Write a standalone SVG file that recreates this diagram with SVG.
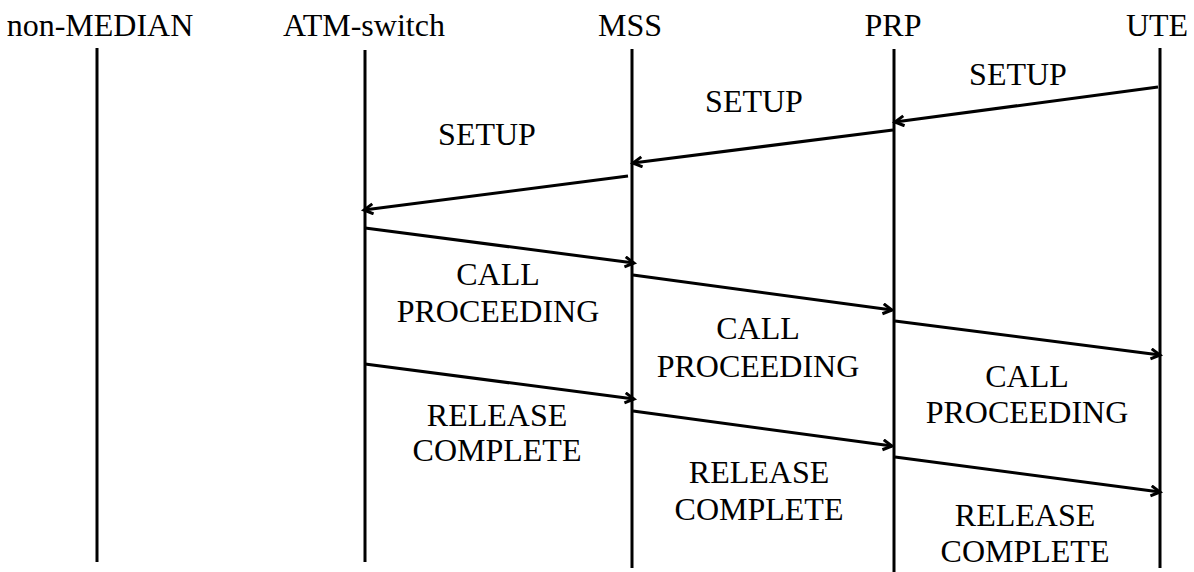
<svg xmlns="http://www.w3.org/2000/svg" width="1194" height="572" viewBox="0 0 1194 572">
<style>
text{font-family:"Liberation Serif","Times New Roman",serif;font-size:32px;fill:#000;text-anchor:middle}
.life{stroke:#000;stroke-width:3;fill:none}
.msg{stroke:#000;stroke-width:3;fill:none;marker-end:url(#ah)}
</style>
<defs>
<marker id="ah" markerUnits="userSpaceOnUse" markerWidth="14" markerHeight="14" refX="11" refY="6" orient="auto">
<path d="M2,1 L11,6 L2,11" fill="none" stroke="#000" stroke-width="3" stroke-linejoin="miter"/>
</marker>
</defs>
<rect width="1194" height="572" fill="#fff"/>
<g id="non-median">
<text x="100" y="36">non-MEDIAN</text>
<line class="life" x1="97" y1="48" x2="97" y2="562"/>
</g>
<g id="atm-switch">
<text x="364" y="36">ATM-switch</text>
<line class="life" x1="365" y1="50" x2="365" y2="562"/>
</g>
<g id="mss">
<text x="630" y="36">MSS</text>
<line class="life" x1="632" y1="49" x2="632" y2="568"/>
</g>
<g id="prp">
<text x="893" y="36">PRP</text>
<line class="life" x1="894" y1="49" x2="894" y2="572"/>
</g>
<g id="ute">
<text x="1157" y="36">UTE</text>
<line class="life" x1="1160" y1="48" x2="1160" y2="568"/>
</g>
<g id="connectors">
<line class="msg" x1="1158" y1="87" x2="895" y2="122"/>
<line class="msg" x1="893" y1="130" x2="633" y2="163"/>
<line class="msg" x1="628" y1="176" x2="364" y2="210"/>
<line class="msg" x1="365" y1="228" x2="634" y2="263"/>
<line class="msg" x1="633" y1="275" x2="892" y2="310"/>
<line class="msg" x1="895" y1="321" x2="1160" y2="355"/>
<line class="msg" x1="365" y1="364" x2="634" y2="399"/>
<line class="msg" x1="633" y1="411" x2="892" y2="446"/>
<line class="msg" x1="895" y1="457" x2="1160" y2="492"/>
</g>
<g id="labels">
<text x="1018" y="85">SETUP</text>
<text x="754" y="112">SETUP</text>
<text x="487" y="145">SETUP</text>
<text x="498" y="285">CALL</text>
<text x="498" y="322">PROCEEDING</text>
<text x="758" y="339">CALL</text>
<text x="758" y="377">PROCEEDING</text>
<text x="1027" y="387">CALL</text>
<text x="1027" y="423">PROCEEDING</text>
<text x="497" y="426">RELEASE</text>
<text x="497" y="461">COMPLETE</text>
<text x="759" y="483">RELEASE</text>
<text x="759" y="520">COMPLETE</text>
<text x="1025" y="526">RELEASE</text>
<text x="1025" y="562">COMPLETE</text>
</g>
</svg>
